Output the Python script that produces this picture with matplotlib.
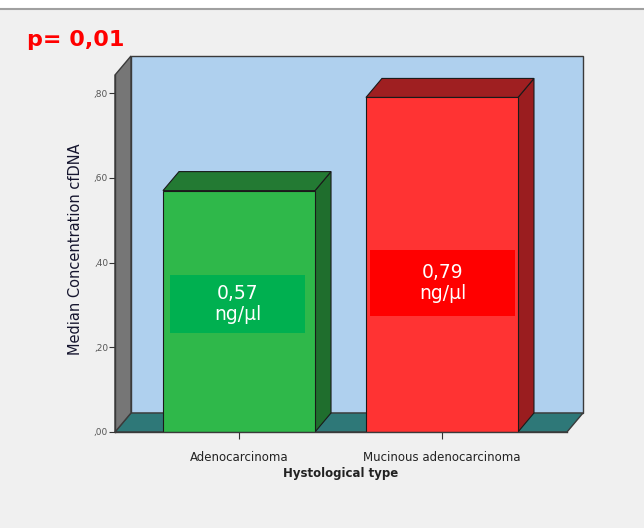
import matplotlib.pyplot as plt
from matplotlib.patches import Polygon, Rectangle

# data
categories = ["Adenocarcinoma", "Mucinous adenocarcinoma"]
medians = [0.57, 0.79]
value_labels = ["0,57\nng/µl", "0,79\nng/µl"]
yticks = [0.0, 0.2, 0.4, 0.6, 0.8]
ytick_labels = [",00", ",20", ",40", ",60", ",80"]

front_colors = ["#2fb84a", "#ff3333"]
side_colors = ["#1f6e2d", "#9a1d1f"]
top_colors = ["#237a33", "#9f1f21"]
box_colors = ["#00b050", "#ff0000"]

fig = plt.figure(figsize=(6.44, 5.28), dpi=100)
fig.patch.set_facecolor("#f0f0f0")

# white strip and grey rule at the very top
fig.patches.append(Rectangle((0, 1 - 8 / 528), 1, 8 / 528, transform=fig.transFigure,
                             facecolor="white", edgecolor="none"))
fig.lines.append(plt.Line2D([0, 1], [1 - 9 / 528, 1 - 9 / 528], transform=fig.transFigure,
                            color="#a0a0a0", lw=1.5))

ax = fig.add_axes([115 / 644, 96 / 528, 452 / 644, 357 / 528])
ax.set_facecolor("none")
xl, xr = -0.611, 1.616
ytop = 0.843
ax.set_xlim(xl, xr)
ax.set_ylim(0, ytop)

# depth offset of the pseudo-3D box (data units)
dx, dy = 0.0788, 0.0449
edge = "#3a3a3a"

# back wall, floor, left wall
ax.add_patch(Polygon([(xl + dx, dy), (xr + dx, dy), (xr + dx, ytop + dy), (xl + dx, ytop + dy)],
                     closed=True, facecolor="#afd0ee", edgecolor=edge, lw=1, clip_on=False, zorder=1))
ax.add_patch(Polygon([(xl, 0), (xr, 0), (xr + dx, dy), (xl + dx, dy)],
                     closed=True, facecolor="#2e7878", edgecolor=edge, lw=1, clip_on=False, zorder=2))
ax.add_patch(Polygon([(xl, 0), (xl + dx, dy), (xl + dx, ytop + dy), (xl, ytop)],
                     closed=True, facecolor="#767676", edgecolor=edge, lw=1, clip_on=False, zorder=2))

# 3D bars
w = 0.749
for i, v in enumerate(medians):
    x0, x1 = i - w / 2, i + w / 2
    ax.add_patch(Polygon([(x1, 0), (x1 + dx, dy), (x1 + dx, v + dy), (x1, v)], closed=True,
                         facecolor=side_colors[i], edgecolor="#1a1a1a", lw=0.8, clip_on=False, zorder=3))
    ax.add_patch(Polygon([(x0, v), (x1, v), (x1 + dx, v + dy), (x0 + dx, v + dy)], closed=True,
                         facecolor=top_colors[i], edgecolor="#1a1a1a", lw=0.8, clip_on=False, zorder=3))
    ax.bar(i, v, width=w, color=front_colors[i], edgecolor="#1a1a1a", lw=0.8, zorder=4)

# value boxes inside the bars
box_spans = [(-0.34, 0.325, 0.234, 0.371), (-0.355, 0.36, 0.274, 0.43)]
for i, (a, b, lo, hi) in enumerate(box_spans):
    ax.add_patch(Rectangle((i + a, lo), b - a, hi - lo, facecolor=box_colors[i],
                           edgecolor="none", zorder=5))
    ax.text(i + (a + b) / 2, (lo + hi) / 2, value_labels[i], ha="center", va="center",
            color="white", fontsize=13.5, linespacing=1.15, zorder=6)

ax.plot([xl, xr], [0, 0], color=edge, lw=1, clip_on=False, zorder=5)
ax.plot([xl, xl], [0, ytop], color=edge, lw=1, clip_on=False, zorder=5)

for s in ax.spines.values():
    s.set_visible(False)
ax.set_yticks(yticks)
ax.set_yticklabels(ytick_labels, fontsize=6.5, color="#555555")
ax.set_xticks(range(len(categories)))
ax.set_xticklabels(categories, fontsize=8.5, color="#222222")
ax.tick_params(axis="y", direction="out", length=4, width=0.8, color="#333333", pad=1)
ax.tick_params(axis="x", direction="out", length=5, width=0.8, color="#333333", pad=9)

ax.set_xlabel("Hystological type", fontsize=8.5, fontweight="bold", color="#222222", labelpad=2)
ax.set_ylabel("Median Concentration cfDNA", fontsize=10.5, color="#15152e", fontweight="medium")
ax.yaxis.set_label_coords(-0.07, (432 - 249) / 357)

fig.text(27 / 644, 1 - 40 / 528, "p= 0,01", color="#ff0000", fontsize=16, fontweight="bold",
         ha="left", va="center")

fig.savefig("out.png", dpi=100, facecolor=fig.get_facecolor())
